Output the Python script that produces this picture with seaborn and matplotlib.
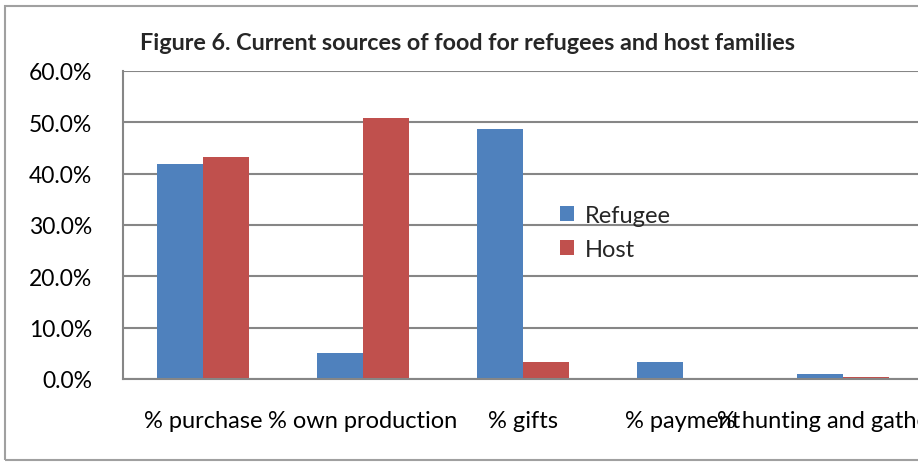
import matplotlib
matplotlib.use("Agg")
import matplotlib.pyplot as plt
from matplotlib.patches import Rectangle
from matplotlib.ticker import PercentFormatter
import seaborn as sns
import pandas as pd

categories = ["% purchase", "% own production", "% gifts", "% payment", "% hunting and gathering"]
refugee = [41.9, 5.1, 48.7, 3.4, 1.0]
host = [43.2, 50.9, 3.3, 0.1, 0.3]
series = ["Refugee", "Host"]
colors = {"Refugee": "#4F81BD", "Host": "#C0504D"}
title = "Figure 6. Current sources of food for refugees and host families"

df = pd.DataFrame({
    "category": categories * 2,
    "value": refugee + host,
    "series": [series[0]] * len(categories) + [series[1]] * len(categories),
})

sns.set_style("white")
plt.rcParams["font.family"] = ["Lato", "DejaVu Sans"]

fig = plt.figure(figsize=(9.18, 4.64), dpi=100)
ax = fig.add_axes([123 / 918, 1 - 380 / 464, 800 / 918, 308 / 464])

sns.barplot(data=df, x="category", y="value", hue="series", palette=colors,
            width=0.575, gap=0, saturation=1, ax=ax, order=categories,
            hue_order=series, legend=True, edgecolor="none", linewidth=0)

ax.set_ylim(0, 60)
ax.set_yticks(range(0, 61, 10))
ax.yaxis.set_major_formatter(PercentFormatter(decimals=1))
ax.set_xlim(-0.5, len(categories) - 0.5)
ax.set_xlabel("")
ax.set_ylabel("")
ax.grid(axis="y", color="#868686", linewidth=1.5)
ax.set_axisbelow(True)
for side in ["top", "right"]:
    ax.spines[side].set_visible(False)
for side in ["left", "bottom"]:
    ax.spines[side].set_color("#868686")
    ax.spines[side].set_linewidth(1.5)
ax.tick_params(axis="y", labelsize=16.5, pad=22, length=0, colors="black")
ax.tick_params(axis="x", labelsize=17, pad=22, length=0, colors="black")

leg = ax.legend(loc="upper left", bbox_to_anchor=(0.52, 0.635), frameon=False,
                fontsize=17, handlelength=0.6, handleheight=0.6,
                handletextpad=0.45, labelspacing=0.55)

fig.text(468 / 918, 1 - 44 / 464, title, ha="center", va="center",
         fontsize=16.8, fontweight="bold")

fig.patches.append(Rectangle((5 / 918, 3 / 464), 1.0, 1 - 10 / 464,
                             transform=fig.transFigure, fill=False,
                             edgecolor="#A0A0A0", linewidth=1.5))

fig.savefig("out.png", dpi=100)
